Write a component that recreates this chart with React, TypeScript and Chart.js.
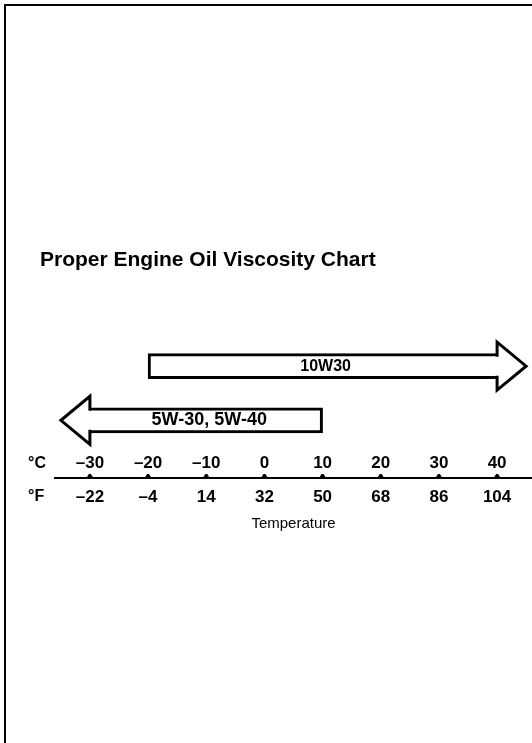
import React, { useEffect, useRef } from 'react';
import { Chart, registerables } from 'chart.js';

Chart.register(...registerables);

// ---- data ----
const grades = ['10W30', '5W-30, 5W-40'];
const tailC = [-20, 10];
const headC = [40, -30];
const rowPos = [1, 2];
const celsiusTicks = [-30, -20, -10, 0, 10, 20, 30, 40];
const celsiusLabels = ['–30', '–20', '–10', '0', '10', '20', '30', '40'];
const fahrenheitLabels = ['–22', '–4', '14', '32', '50', '68', '86', '104'];
const titleText = 'Proper Engine Oil Viscosity Chart';
const axisTitle = 'Temperature';
const unitLabels = ['°C', '°F'];

const FONT = "'Liberation Sans', Arial, Helvetica, sans-serif";
const TICK_FONT_SIZE = 17;
const F_PAD = 8.8;
const LABEL_SIZES = [16, 18];

const decorPlugin = {
  id: 'decor',
  beforeDraw(chart: any) {
    const ctx = chart.ctx;
    ctx.save();
    ctx.fillStyle = '#fff';
    ctx.fillRect(0, 0, chart.width, chart.height);
    // page frame (top and left edges)
    ctx.fillStyle = '#000';
    ctx.fillRect(4, 4, chart.width - 4, 2);
    ctx.fillRect(4, 4, 2, chart.height - 4);
    ctx.restore();
  },
  afterDatasetsDraw(chart: any) {
    const ctx = chart.ctx;
    const xs = chart.scales.x;
    grades.forEach((g, i) => {
      const meta = chart.getDatasetMeta(i);
      const bar: any = meta.data[0];
      if (!bar) return;
      const { y, height } = bar.getProps(['y', 'height'], true);
      const headX = xs.getPixelForValue(headC[i]);
      const tailX = xs.getPixelForValue(tailC[i]);
      const dir = Math.sign(headX - tailX);
      const bw = 3;
      const top = y - height / 2;
      const bot = y + height / 2;
      const headHalf = 24;
      const headLen = 29;
      ctx.save();
      ctx.fillStyle = '#fff';
      ctx.fillRect(dir > 0 ? headX - bw - 1 : headX - 1, top + bw, bw + 2, height - 2 * bw);
      ctx.beginPath();
      ctx.moveTo(headX, top + bw);
      ctx.lineTo(headX, y - headHalf);
      ctx.lineTo(headX + dir * headLen, y);
      ctx.lineTo(headX, y + headHalf);
      ctx.lineTo(headX, bot - bw);
      ctx.fill();
      ctx.strokeStyle = '#000';
      ctx.lineWidth = 3;
      ctx.lineJoin = 'miter';
      ctx.stroke();
      ctx.fillStyle = '#000';
      ctx.font = `bold ${LABEL_SIZES[i]}px ${FONT}`;
      ctx.textAlign = 'center';
      ctx.textBaseline = 'middle';
      ctx.fillText(g, (headX + tailX) / 2 + 3, y);
      ctx.restore();
    });
  },
  afterDraw(chart: any) {
    const ctx = chart.ctx;
    const xc = chart.scales.x;
    const xf = chart.scales.xF;
    const lineY = xf.top;
    ctx.save();
    ctx.fillStyle = '#000';
    celsiusTicks.forEach((v) => {
      const px = xf.getPixelForValue(v);
      ctx.beginPath();
      ctx.moveTo(px - 3.5, lineY);
      ctx.lineTo(px - 1, lineY - 4);
      ctx.lineTo(px + 1, lineY - 4);
      ctx.lineTo(px + 3.5, lineY);
      ctx.closePath();
      ctx.fill();
    });
    ctx.font = `bold 16px ${FONT}`;
    ctx.textAlign = 'left';
    ctx.textBaseline = 'middle';
    ctx.fillText(unitLabels[0], 28, xc.top + TICK_FONT_SIZE * 0.6 + 1);
    ctx.fillText(unitLabels[1], 28, xf.top + F_PAD + TICK_FONT_SIZE * 0.6);
    ctx.restore();
  },
};

export default function App() {
  const ref = useRef<HTMLCanvasElement>(null);
  useEffect(() => {
    document.body.style.margin = '0';
    const datasets = grades.map((g, i) => ({
      label: g,
      data: [{ x: [tailC[i], headC[i]], y: rowPos[i] }],
      backgroundColor: '#ffffff',
      borderColor: '#000000',
      borderWidth: 3,
      borderSkipped: 'end',
      barThickness: 25,
      grouped: false,
      xAxisID: 'x',
      yAxisID: 'y',
    }));
    const chart = new Chart(ref.current as HTMLCanvasElement, {
      type: 'bar',
      data: { datasets: datasets as any },
      plugins: [decorPlugin],
      options: {
        indexAxis: 'y',
        animation: false,
        responsive: true,
        maintainAspectRatio: false,
        events: [],
        layout: { padding: { top: 0, left: 40, right: 0, bottom: 206.4 } },
        plugins: {
          legend: { display: false },
          tooltip: { enabled: false },
          title: {
            display: true,
            text: titleText,
            align: 'start',
            color: '#000',
            font: { family: FONT, size: 21, weight: 'bold' },
            padding: { top: 247.4, bottom: 39.4 },
          },
        },
        scales: {
          y: {
            type: 'linear',
            position: 'left',
            reverse: true,
            offset: false,
            min: 0,
            max: 2.6,
            ticks: { display: false },
            grid: { display: false, offset: false },
            border: { display: false },
            afterFit: (s: any) => { s.width = 15; },
          },
          x: {
            type: 'linear',
            position: 'bottom',
            weight: 0,
            min: -36,
            max: 46,
            afterBuildTicks: (s: any) => { s.ticks = celsiusTicks.map((v) => ({ value: v })); },
            afterFit: (s: any) => { s.height = 25.2; },
            grid: { display: false, drawTicks: false },
            border: { display: false },
            ticks: {
              padding: 0,
              autoSkip: false,
              maxRotation: 0,
              color: '#000',
              font: { family: FONT, size: TICK_FONT_SIZE, weight: 'bold' },
              callback: (v: any) => celsiusLabels[celsiusTicks.indexOf(Number(v))],
            },
          },
          xF: {
            type: 'linear',
            axis: 'x',
            position: 'bottom',
            weight: 1,
            min: -36,
            max: 46,
            afterBuildTicks: (s: any) => { s.ticks = celsiusTicks.map((v) => ({ value: v })); },
            afterFit: (s: any) => { s.height = 58.6; },
            grid: { display: true, drawOnChartArea: false, drawTicks: false },
            border: { display: true, color: '#000', width: 2 },
            ticks: {
              padding: F_PAD,
              autoSkip: false,
              maxRotation: 0,
              color: '#000',
              font: { family: FONT, size: TICK_FONT_SIZE, weight: 'bold' },
              callback: (v: any) => fahrenheitLabels[celsiusTicks.indexOf(Number(v))],
            },
            title: {
              display: true,
              text: axisTitle,
              color: '#000',
              font: { family: FONT, size: 15 },
              padding: { top: 8, bottom: 4 },
            },
          },
        },
      } as any,
    });
    return () => chart.destroy();
  }, []);
  return (
    <div style={{ position: 'absolute', left: 0, top: 0, width: 532, height: 743, background: '#fff' }}>
      <canvas ref={ref} />
    </div>
  );
}
